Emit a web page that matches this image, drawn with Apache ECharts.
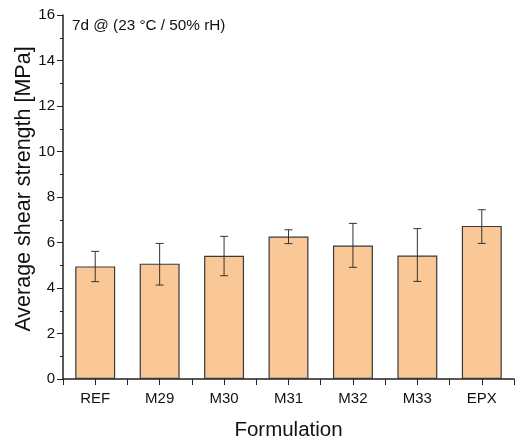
<!DOCTYPE html>
<html>
<head>
<meta charset="utf-8">
<script src="https://cdn.jsdelivr.net/npm/echarts@6/dist/echarts.min.js"></script>
<style>
    html, body { margin: 0; padding: 0; background: #fff; }
    #main { width: 515px; height: 438px; }
</style>
</head>
<body>
<div id="main"></div>
<script>
    // 7d @ (23 °C / 50% rH)
    var categories = ['REF', 'M29', 'M30', 'M31', 'M32', 'M33', 'EPX'];
    var meanValues = [4.95, 5.07, 5.42, 6.26, 5.87, 5.43, 6.73];
    var errUpper = [5.61, 5.96, 6.27, 6.56, 6.84, 6.61, 7.44];
    var errLower = [4.28, 4.13, 4.54, 5.95, 4.91, 4.29, 5.96];
    var yTicks = [0, 2, 4, 6, 8, 10, 12, 14, 16];

    var chart = echarts.init(document.getElementById('main'));
    var font = 'Liberation Sans, Arial, sans-serif';
    var axisColor = '#222';

    var errData = categories.map(function (c, i) {
        return [i, errLower[i], errUpper[i]];
    });

    var option = {
        animation: false,
        textStyle: { fontFamily: font },
        grid: { left: 63, top: 15, right: 1, bottom: 59, outerBoundsMode: 'none' },
        graphic: [{
            type: 'text',
            left: 72,
            top: 18,
            style: { text: '7d @ (23 °C / 50% rH)', font: '15.3px ' + font, fill: '#111' }
        }],
        xAxis: [{
            type: 'category',
            data: categories,
            name: 'Formulation',
            nameLocation: 'middle',
            nameGap: 41,
            nameMoveOverlap: false,
            nameTextStyle: { fontSize: 20.5, color: '#111' },
            axisLine: { lineStyle: { color: axisColor, width: 1.5 } },
            axisTick: { show: true, alignWithLabel: false, length: 6, lineStyle: { color: axisColor } },
            axisLabel: { fontSize: 15, color: '#111', margin: 12 }
        }, {
            type: 'category',
            data: categories,
            position: 'bottom',
            axisLine: { show: false },
            axisTick: { show: true, alignWithLabel: true, length: 6, lineStyle: { color: axisColor } },
            axisLabel: { show: false }
        }],
        yAxis: {
            type: 'value',
            min: yTicks[0],
            max: yTicks[yTicks.length - 1],
            interval: 2,
            name: 'Average shear strength [MPa]',
            nameLocation: 'middle',
            nameGap: 28,
            nameMoveOverlap: false,
            nameTextStyle: { fontSize: 21.5, color: '#111', padding: [0, 0, 0, 16] },
            axisLine: { show: true, lineStyle: { color: axisColor, width: 1.5 } },
            axisTick: { show: true, length: 6, lineStyle: { color: axisColor } },
            minorTick: { show: true, splitNumber: 2, length: 3, lineStyle: { color: axisColor } },
            splitLine: { show: false },
            axisLabel: { fontSize: 15, color: '#111', margin: 8 }
        },
        series: [{
            type: 'bar',
            data: meanValues,
            barWidth: '62%',
            itemStyle: { color: '#f9c896', borderColor: '#3a3a3a', borderWidth: 1.2 },
            z: 2
        }, {
            type: 'custom',
            data: errData,
            z: 3,
            renderItem: function (params, api) {
                var x = api.value(0);
                var lo = api.coord([x, api.value(1)]);
                var hi = api.coord([x, api.value(2)]);
                var half = 4;
                var style = { stroke: '#333', lineWidth: 1 };
                return {
                    type: 'group',
                    children: [
                        { type: 'line', shape: { x1: hi[0], y1: hi[1], x2: lo[0], y2: lo[1] }, style: style },
                        { type: 'line', shape: { x1: hi[0] - half, y1: hi[1], x2: hi[0] + half, y2: hi[1] }, style: style },
                        { type: 'line', shape: { x1: lo[0] - half, y1: lo[1], x2: lo[0] + half, y2: lo[1] }, style: style }
                    ]
                };
            }
        }]
    };

    chart.setOption(option);
    window.onresize = function () {
        chart.resize();
    };
</script>
</body>
</html>
